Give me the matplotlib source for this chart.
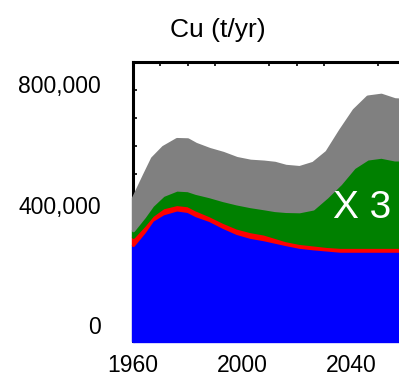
"""Cu (t/yr) stacked area chart."""

import matplotlib

matplotlib.use("Agg")
import matplotlib.pyplot as plt  # noqa: E402
import numpy as np

plt.rcParams["font.family"] = ["Liberation Sans", "DejaVu Sans"]

# Layer thicknesses (t/yr)
years = [1960, 1964, 1967, 1971, 1976, 1980, 1983, 1988, 1993, 1998, 2003, 2008,
         2012, 2016, 2021, 2026, 2031, 2036, 2041, 2046, 2051, 2056, 2060]
blue = [266, 310, 349, 371, 384, 379, 365, 349, 326, 306, 293, 285,
        277, 269, 260, 255, 251, 247, 247, 247, 247, 247, 247]
red = [27, 22, 16, 20, 18, 19, 19, 16, 17, 18, 19, 19,
       16, 13, 13, 13, 12, 13, 13, 13, 13, 13, 13]
green = [22, 28, 33, 41, 48, 50, 55, 63, 72, 80, 83, 84,
         89, 97, 105, 119, 163, 210, 264, 293, 299, 290, 290]
gray = [107, 138, 156, 159, 167, 168, 162, 156, 156, 150, 150, 154,
        156, 149, 146, 151, 149, 177, 190, 205, 205, 199, 197]

ytick_vals = [0, 400000, 800000]
ytick_labels = ["0", "400,000", "800,000"]
xtick_vals = [1960, 2000, 2040]

layers = [np.array(v) * 1000.0 for v in (blue, red, green, gray)]
colors = ["#0000ff", "#ff0000", "#008000", "#808080"]

fig = plt.figure(figsize=(3.99, 3.77), dpi=100)
ax = fig.add_axes([133 / 399, 36 / 377, 266 / 399, 279 / 377])

ymin, ymax = -53000, 873000
ax.set_xlim(1960, 2057.6)
ax.set_ylim(ymin, ymax)

# areas are drawn over the left spine, as in the source figure
bottom = np.full(len(years), float(ymin))
top = np.zeros(len(years))
for layer, color in zip(layers, colors):
    top = top + layer
    ax.fill_between(years, bottom, top, facecolor=color, edgecolor=color,
                    linewidth=2.4, zorder=3, clip_on=False)
    bottom = top.copy()

ax.text(2044, 388000, "X 3", color="white", fontsize=28,
        ha="center", va="center", zorder=4)

for side in ("right", "bottom"):
    ax.spines[side].set_visible(False)
for side in ("top", "left"):
    ax.spines[side].set_linewidth(2.2)
ax.set_axisbelow(True)

ax.set_yticks(ytick_vals)
ax.set_yticklabels(ytick_labels)
ax.set_xticks(xtick_vals)
ax.set_xticklabels([str(v) for v in xtick_vals])
ax.tick_params(axis="both", which="major", length=0, labelsize=16.5)
ax.tick_params(axis="y", which="major", pad=23)
ax.tick_params(axis="x", which="major", pad=9)

# small inward marks along the top and left spines
ax.set_yticks(np.linspace(ymin, ymax, 11)[1:-1], minor=True)
ax.set_xticks(np.arange(1970, 2060, 10), minor=True)
ax.tick_params(axis="y", which="minor", direction="in", length=3, width=1.2, left=True)
ax.tick_params(axis="x", which="minor", direction="in", length=3, width=1.2,
               bottom=False, top=True)

fig.text(218 / 399, 1 - 30 / 377, "Cu (t/yr)", fontsize=19, ha="center", va="center")

fig.savefig("out.png", dpi=100)
